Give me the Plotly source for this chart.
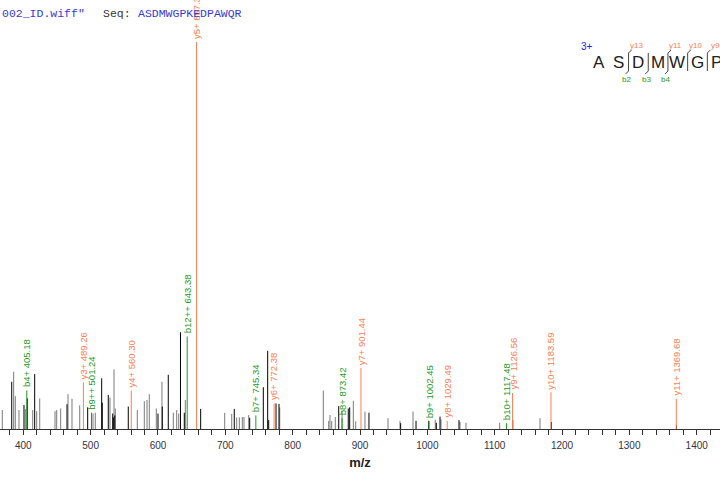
import plotly.graph_objects as go

# ---------------- data ----------------
# unlabeled peaks: m/z, relative intensity (%), shade ('k' black, 'g' gray)
peak_mz = [368.8, 382.8, 385.7, 388.1, 393.6, 401.0, 403.0, 405.9, 414.0, 416.9,
           419.9, 424.4, 447.1, 449.6, 455.5, 464.9, 466.4, 472.3, 483.8, 495.6,
           503.5, 506.9, 516.4, 517.3, 526.2, 528.7, 532.8, 533.6, 534.7, 535.8,
           536.6, 555.9, 569.3, 579.7, 583.7, 587.1, 597.5, 600.0, 605.9, 606.4,
           615.3, 622.8, 627.8, 630.8, 633.4, 639.1, 640.6, 663.4, 699.1, 709.5,
           713.3, 716.9, 720.8, 725.2, 727.7, 734.7, 736.2, 756.4, 762.9, 764.4,
           775.3, 779.7, 780.8, 845.5, 853.5, 855.4, 858.0, 863.3, 868.4, 873.3,
           882.6, 884.7, 890.1, 893.6, 907.4, 913.3, 941.6, 959.4, 960.4, 978.7,
           983.2, 1002.0, 1011.8, 1013.3, 1018.8, 1020.3, 1047.0, 1048.5, 1057.4, 1107.4,
           1126.8, 1167.3, 1184.2, 1370.0]
peak_int = [4.9, 12.2, 14.8, 8.5, 4.9, 6.2, 5.2, 7.9, 4.9, 14.2,
            4.6, 7.9, 4.6, 4.9, 5.3, 6.4, 9.0, 7.8, 6.1, 5.6,
            4.0, 4.2, 13.1, 6.8, 8.8, 8.1, 4.0, 3.0, 15.4, 3.5,
            5.3, 5.8, 4.9, 7.2, 7.5, 9.0, 5.3, 4.0, 12.2, 5.8,
            14.0, 4.2, 4.9, 4.0, 25.0, 4.2, 7.5, 5.2, 4.2, 3.9,
            5.2, 3.0, 3.0, 3.1, 3.1, 3.6, 2.9, 10.8, 20.2, 2.3,
            6.6, 6.5, 5.6, 9.9, 2.1, 3.6, 2.1, 3.1, 5.9, 4.7,
            5.3, 5.6, 7.3, 2.0, 4.5, 4.2, 2.8, 2.1, 1.5, 4.5,
            2.1, 2.1, 2.4, 1.6, 3.2, 2.5, 2.3, 1.8, 1.6, 1.6,
            2.3, 2.8, 1.8, 1.0]
peak_shade = ['g', 'k', 'g', 'g', 'g', 'k', 'g', 'k', 'g', 'k',
              'g', 'g', 'g', 'g', 'g', 'k', 'g', 'g', 'g', 'k',
              'g', 'g', 'k', 'k', 'k', 'g', 'k', 'k', 'g', 'k',
              'g', 'k', 'g', 'g', 'g', 'g', 'g', 'k', 'g', 'k',
              'k', 'g', 'g', 'g', 'k', 'k', 'g', 'k', 'g', 'g',
              'k', 'g', 'g', 'g', 'g', 'g', 'k', 'k', 'k', 'k',
              'k', 'k', 'g', 'g', 'g', 'g', 'g', 'g', 'k', 'g',
              'k', 'k', 'g', 'g', 'g', 'k', 'g', 'g', 'k', 'g',
              'k', 'k', 'g', 'k', 'k', 'g', 'k', 'g', 'g', 'g',
              'k', 'g', 'k', 'k']

# annotated fragment ions
y_names = ["y3+", "y4+", "y5+", "y6+", "y7+", "y8+", "y9+", "y10+", "y11+"]
y_mz = [489.26, 560.30, 657.34, 772.38, 901.44, 1029.49, 1126.56, 1183.59, 1369.68]
y_int = [12.0, 9.9, 100.0, 6.6, 15.8, 2.1, 9.3, 9.5, 7.8]

b_names = ["b4+", "b9++", "b12++", "b7+", "b8+", "b9+", "b10+"]
b_mz = [405.18, 501.24, 643.38, 745.34, 873.42, 1002.45, 1117.48]
b_int = [10.0, 4.2, 23.9, 3.5, 2.8, 2.1, 1.5]

x_range = [365.4, 1434.6]
file_text = '002_ID.wiff"'
seq_text = "ASDMWGPKEDPAWQR"
seq_shown = ["A", "S", "D", "M", "W", "G", "P"]
charge_text = "3+"
y_cuts = [(1, "y13"), (3, "y11"), (4, "y10"), (5, "y9")]   # after residue index
b_cuts = [(1, "b2"), (2, "b3"), (3, "b4")]

# ---------------- styling / layout helpers ----------------
W, H = 720, 480
T, B = 42, 51
PH = H - T - B
ORANGE = "#F88050"
GREEN = "#1E9A1E"
FONT = "Liberation Sans, Arial, sans-serif"


def px2x(px):
    return px / W


def py2y(py):
    return (H - B - py) / PH


def segs(xs, ys):
    sx, sy = [], []
    for x, y in zip(xs, ys):
        sx += [x, x, None]
        sy += [0, y, None]
    return sx, sy


fig = go.Figure()

for shade, col in (("g", "#7a7a7a"), ("k", "#000000")):
    xs = [m for m, s in zip(peak_mz, peak_shade) if s == shade]
    ys = [v for v, s in zip(peak_int, peak_shade) if s == shade]
    sx, sy = segs(xs, ys)
    fig.add_trace(go.Scatter(x=sx, y=sy, mode="lines", line=dict(color=col, width=1),
                             hoverinfo="skip", showlegend=False))

for names, mzs, ints, col in ((y_names, y_mz, y_int, ORANGE), (b_names, b_mz, b_int, GREEN)):
    sx, sy = segs(mzs, ints)
    fig.add_trace(go.Scatter(x=sx, y=sy, mode="lines", line=dict(color=col, width=1),
                             hoverinfo="skip", showlegend=False))
    for n, m, v in zip(names, mzs, ints):
        fig.add_annotation(x=m, y=v, xref="x", yref="y", text=f"{n} {m:.2f}",
                           textangle=-90, showarrow=False, xanchor="center",
                           yanchor="bottom", yshift=1,
                           font=dict(family=FONT, size=9.5, color=col))

# header text
mono = "Liberation Mono, Courier New, monospace"
fig.add_annotation(x=px2x(0), y=py2y(13.5), xref="paper", yref="paper", text=file_text,
                   showarrow=False, xanchor="left", yanchor="middle",
                   font=dict(family=mono, size=11.5, color="#3a3ad0"))
fig.add_annotation(x=px2x(101), y=py2y(13.5), xref="paper", yref="paper", text="Seq:",
                   showarrow=False, xanchor="left", yanchor="middle",
                   font=dict(family=mono, size=11.5, color="#333333"))
fig.add_annotation(x=px2x(135.5), y=py2y(13.5), xref="paper", yref="paper", text=seq_text,
                   showarrow=False, xanchor="left", yanchor="middle",
                   font=dict(family=mono, size=11.5, color="#3a3ad0"))

# sequence coverage graphic (upper right)
fig.add_annotation(x=px2x(587), y=py2y(46.5), xref="paper", yref="paper", text=charge_text,
                   showarrow=False, xanchor="center", yanchor="middle",
                   font=dict(family=FONT, size=10, color="#1a1aee"))
x0, dx = 598.5, 19.7
for i, aa in enumerate(seq_shown):
    fig.add_annotation(x=px2x(x0 + i * dx), y=py2y(62), xref="paper", yref="paper", text=aa,
                       showarrow=False, xanchor="center", yanchor="middle",
                       font=dict(family=FONT, size=17, color="#222222"))
cut_x = lambda i: x0 + i * dx + dx / 2 + 0.5
cuts = sorted(set([c for c, _ in y_cuts] + [c for c, _ in b_cuts]))
for c in cuts:
    xc = cut_x(c)
    fig.add_shape(type="line", xref="paper", yref="paper", x0=px2x(xc), x1=px2x(xc),
                  y0=py2y(53), y1=py2y(71), line=dict(color="#444444", width=1))
for c, lab in y_cuts:
    xc = cut_x(c)
    fig.add_shape(type="line", xref="paper", yref="paper", x0=px2x(xc), x1=px2x(xc + 3),
                  y0=py2y(53), y1=py2y(50), line=dict(color="#444444", width=1))
    fig.add_annotation(x=px2x(xc + 8), y=py2y(45), xref="paper", yref="paper", text=lab,
                       showarrow=False, xanchor="center", yanchor="middle",
                       font=dict(family=FONT, size=8, color=ORANGE))
for c, lab in b_cuts:
    xc = cut_x(c)
    fig.add_shape(type="line", xref="paper", yref="paper", x0=px2x(xc), x1=px2x(xc - 3),
                  y0=py2y(71), y1=py2y(74), line=dict(color="#444444", width=1))
    fig.add_annotation(x=px2x(xc - 2), y=py2y(79.5), xref="paper", yref="paper", text=lab,
                       showarrow=False, xanchor="center", yanchor="middle",
                       font=dict(family=FONT, size=8, color=GREEN))

fig.update_layout(
    width=W, height=H,
    margin=dict(l=0, r=0, t=T, b=B),
    paper_bgcolor="white", plot_bgcolor="white",
    showlegend=False,
    xaxis=dict(range=x_range, showgrid=False, zeroline=False, showline=True,
               linecolor="#333333", linewidth=1, ticks="outside", ticklen=5,
               tickcolor="#333333", dtick=100, tick0=0, ticklabelstandoff=2,
               tickfont=dict(family=FONT, size=10, color="#333344"),
               minor=dict(dtick=20, ticks="outside", ticklen=5, tickcolor="#333333"),
               title=dict(text="<b>m/z</b>", font=dict(family=FONT, size=13, color="#222222"),
                          standoff=7),
               automargin=False),
    yaxis=dict(range=[0, 100], visible=False, fixedrange=True),
)

fig.write_html("out.html")
